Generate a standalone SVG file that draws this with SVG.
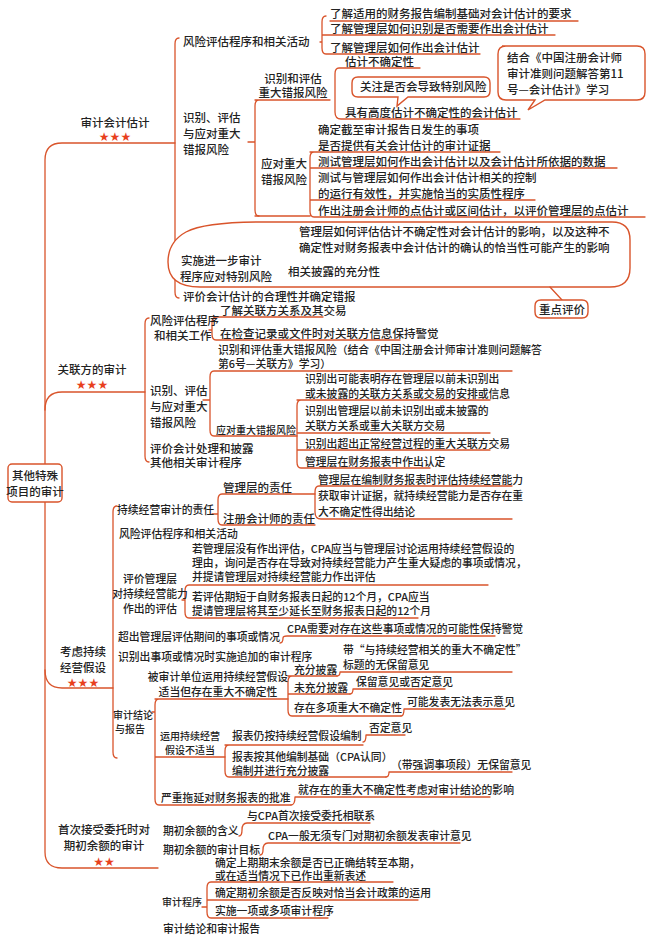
<svg xmlns="http://www.w3.org/2000/svg" width="650" height="940" viewBox="0 0 650 940">
<style>
text{font-family:"Noto Sans CJK SC","Liberation Serif",serif;font-size:11.5px;fill:#222;font-weight:500}
.s{font-size:10.8px}
.t{font-size:10px}
.l{fill:none;stroke:#d9542b;stroke-width:1.3;stroke-linecap:round;stroke-linejoin:round}
.st{fill:#e8401c;font-size:12px;font-family:"DejaVu Sans",sans-serif}
.cb{fill:#fff;stroke:#d9542b;stroke-width:1.4}
</style>
<rect width="650" height="940" fill="#fff"/>
<g id="connectors" class="l">
<path d="M45,464 V160 Q45,143 62,143 H175"/>
<path d="M45,501 V852 Q45,868 62,868 H158"/>
<path d="M45,410 Q45,392 62,392 H145"/>
<path d="M45,670 Q45,688 62,688 H113"/>
<path d="M179,38 Q175,38 175,44 V292 Q175,298 179,298"/>
<path d="M320,42 H322 M326,16 Q322,16 322,22 V48 Q322,54 326,54 M322,35 H555 M330,21 H578 M326,54 H480"/>
<path d="M248,142 H255 M259,100 Q255,100 255,106 V210 Q255,216 259,216 M255,100 H330"/>
<path d="M339,68 Q335,68 335,74 V112 Q335,119 341,119 H520 M339,68 H420"/>
<path d="M255,216 H310 M314,152 Q310,152 310,158 V211 Q310,217 314,217 H645 M310,152 H500 M310,168 H617 M310,200 H535"/>
<path d="M273,270 H280 M284,256 Q280,256 280,262 V272 Q280,278 284,278 H390 M280,256 H618"/>
<path d="M149,318 Q145,318 145,324 V456 Q145,462 149,462"/>
<path d="M209,330 H212 M216,317 Q212,317 212,323 V334 Q212,340 216,340 H400 M216,317 H323"/>
<path d="M203,400 H210 M214,371 Q210,371 210,377 V430 Q210,436 214,436 H297 M214,371 H512"/>
<path d="M301,400 Q297,400 297,406 V462 Q297,468 301,468 H430 M297,400 H490 M297,433 H490 M297,450 H490"/>
<path d="M117,506 Q113,506 113,512 V752 Q113,758 117,758"/>
<path d="M212,514 H218 M222,494 Q218,494 218,500 V519 Q218,525 222,525 H315 M222,494 H315"/>
<path d="M319,486 Q315,486 315,492 V512 Q315,519 321,519 H512 M319,486 H512"/>
<path d="M182,600 H185 M189,585 Q185,585 185,591 V612 Q185,618 189,618 H418 M189,585 H488"/>
<path d="M280,643 Q283,643 283,638 Q283,636 287,636 H495"/>
<path d="M152,712 H155 M159,699 Q155,699 155,705 V799 Q155,805 159,805 H291 M155,699 H288 M155,757 H225"/>
<path d="M292,676 Q288,676 288,682 V710 Q288,716 292,716 H401 M288,676 H337 M288,694 H350"/>
<path d="M337,676 Q340,676 340,672 H512 M350,694 Q353,694 353,689 H445 M401,716 Q404,716 404,709 H505"/>
<path d="M229,745 Q225,745 225,751 V771 Q225,777 229,777 H386 M225,745 H363"/>
<path d="M363,742 Q366,742 366,735 H405 M386,777 Q389,777 389,772 H512"/>
<path d="M291,805 Q295,805 295,797 H490"/>
<path d="M239,836 Q242,836 242,830 Q242,823 247,823 H370"/>
<path d="M260,855 Q263,855 263,850 Q263,843 268,843 H460"/>
<path d="M202,907 H207 M211,882 Q207,882 207,888 V912 Q207,918 211,918 H328 M211,882 H393 M207,900 H418"/>
</g>
<g id="callouts">
<path class="cb" fill="none" d="M186,232 Q205,222 262,222 H612 Q630,222 630,240 V268 Q630,287 610,287 H200 Q168,287 168,262 Q168,242 186,232 Z"/>
<path class="l" d="M550,287 L562,300"/>
<path class="cb" d="M502,46 H637 Q645,46 645,54 V92 Q645,100 637,100 H545 L528,110 L535,100 H506 Q498,100 498,92 V54 Q498,46 506,46 Z"/>
<path class="cb" d="M358,77 H484 Q490,77 490,83 V91 Q490,97 484,97 H408 L397,106 L398,97 H358 Q352,97 352,91 V83 Q352,77 358,77 Z"/>
<path class="cb" d="M541,300 H582 Q588,300 588,306 V312 Q588,318 582,318 H541 Q535,318 535,312 V306 Q535,300 541,300 Z"/>
</g>
<g id="root"><rect x="8" y="464" width="54" height="38" rx="4" class="cb"/><text x="35" y="480" text-anchor="middle">其他特殊</text><text x="35" y="496" text-anchor="middle">项目的审计</text></g>
<g id="b1"><text x="115" y="127" text-anchor="middle">审计会计估计</text><text class="st" x="115" y="141" text-anchor="middle">★★★</text></g>
<g id="b2"><text x="92" y="374" text-anchor="middle">关联方的审计</text><text class="st" x="92" y="389" text-anchor="middle">★★★</text></g>
<g id="b3"><text x="83" y="656" text-anchor="middle">考虑持续</text><text x="83" y="672" text-anchor="middle">经营假设</text><text class="st" x="83" y="687" text-anchor="middle">★★★</text></g>
<g id="b4"><text x="104" y="834" text-anchor="middle">首次接受委托时对</text><text x="104" y="850" text-anchor="middle">期初余额的审计</text><text class="st" x="104" y="866" text-anchor="middle">★★</text></g>
<g id="g1">
<text x="183" y="46">风险评估程序和相关活动</text>
<text x="330" y="18">了解适用的财务报告编制基础对会计估计的要求</text>
<text x="330" y="33">了解管理层如何识别是否需要作出会计估计</text>
<text x="330" y="52">了解管理层如何作出会计估计</text>
<text x="183" y="122">识别、评估</text><text x="183" y="138">与应对重大</text><text x="183" y="154">错报风险</text>
<text x="293" y="83" text-anchor="middle">识别和评估</text><text x="293" y="97" text-anchor="middle">重大错报风险</text>
<text x="345" y="66">估计不确定性</text>
<text x="360" y="91">关注是否会导致特别风险</text>
<text x="345" y="117">具有高度估计不确定性的会计估计</text>
<text x="507" y="62">结合《中国注册会计师</text><text x="507" y="78">审计准则问题解答第11</text><text x="507" y="94">号—会计估计》学习</text>
<text x="261" y="168">应对重大</text><text x="261" y="184">错报风险</text>
<text x="318" y="134">确定截至审计报告日发生的事项</text>
<text x="318" y="150">是否提供有关会计估计的审计证据</text>
<text x="318" y="166">测试管理层如何作出会计估计以及会计估计所依据的数据</text>
<text x="318" y="182">测试与管理层如何作出会计估计相关的控制</text>
<text x="318" y="198">的运行有效性，并实施恰当的实质性程序</text>
<text x="318" y="215">作出注册会计师的点估计或区间估计，以评价管理层的点估计</text>
<text x="181" y="265">实施进一步审计</text><text x="180" y="281">程序应对特别风险</text>
<text x="299" y="236">管理层如何评估估计不确定性对会计估计的影响，以及这种不</text>
<text x="299" y="252">确定性对财务报表中会计估计的确认的恰当性可能产生的影响</text>
<text x="288" y="276">相关披露的充分性</text>
<text x="183" y="301">评价会计估计的合理性并确定错报</text>
<text x="539" y="314">重点评价</text>
</g>
<g id="g2">
<text x="150" y="325">风险评估程序</text><text x="154" y="340">和相关工作</text>
<text x="220" y="315">了解关联方关系及其交易</text>
<text x="220" y="338">在检查记录或文件时对关联方信息保持警觉</text>
<text x="150" y="395">识别、评估</text><text x="150" y="411">与应对重大</text><text x="150" y="427">错报风险</text>
<text class="s" x="218" y="354">识别和评估重大错报风险（结合《中国注册会计师审计准则问题解答</text>
<text class="s" x="218" y="368">第6号—关联方》学习）</text>
<text class="t" x="216" y="434">应对重大错报风险</text>
<text class="s" x="305" y="383">识别出可能表明存在管理层以前未识别出</text>
<text class="s" x="305" y="398">或未披露的关联方关系或交易的安排或信息</text>
<text class="s" x="305" y="415">识别出管理层以前未识别出或未披露的</text>
<text class="s" x="305" y="430">关联方关系或重大关联方交易</text>
<text class="s" x="305" y="448">识别出超出正常经营过程的重大关联方交易</text>
<text class="s" x="305" y="466">管理层在财务报表中作出认定</text>
<text x="150" y="453">评价会计处理和披露</text><text x="150" y="467">其他相关审计程序</text>
</g>
<g id="g3">
<text class="s" x="117" y="514">持续经营审计的责任</text>
<text x="223" y="492">管理层的责任</text>
<text x="223" y="523">注册会计师的责任</text>
<text class="s" x="318" y="484">管理层在编制财务报表时评估持续经营能力</text>
<text class="s" x="318" y="500">获取审计证据，就持续经营能力是否存在重</text>
<text class="s" x="318" y="516">大不确定性得出结论</text>
<text class="s" x="119" y="538">风险评估程序和相关活动</text>
<text class="s" x="150" y="583" text-anchor="middle">评价管理层</text><text class="s" x="150" y="598" text-anchor="middle">对持续经营能力</text><text class="s" x="150" y="613" text-anchor="middle">作出的评估</text>
<text class="s" x="192" y="553">若管理层没有作出评估，CPA应当与管理层讨论运用持续经营假设的</text>
<text class="s" x="192" y="567">理由，询问是否存在导致对持续经营能力产生重大疑虑的事项或情况，</text>
<text class="s" x="192" y="581">并提请管理层对持续经营能力作出评估</text>
<text class="s" x="192" y="601">若评估期短于自财务报表日起的12个月，CPA应当</text>
<text class="s" x="192" y="615">提请管理层将其至少延长至财务报表日起的12个月</text>
<text class="s" x="118" y="641">超出管理层评估期间的事项或情况</text>
<text class="s" x="287" y="633">CPA需要对存在这些事项或情况的可能性保持警觉</text>
<text class="s" x="118" y="661">识别出事项或情况时实施追加的审计程序</text>
<text class="t" x="113" y="719">审计结论</text><text class="t" x="115" y="733">与报告</text>
<text class="s" x="218" y="681" text-anchor="middle">被审计单位运用持续经营假设</text>
<text class="s" x="218" y="696" text-anchor="middle">适当但存在重大不确定性</text>
<text class="s" x="294" y="674">充分披露</text>
<text class="s" x="343" y="654">带“与持续经营相关的重大不确定性”</text>
<text class="s" x="343" y="669">标题的无保留意见</text>
<text class="s" x="294" y="692">未充分披露</text>
<text class="s" x="356" y="686">保留意见或否定意见</text>
<text class="s" x="294" y="712">存在多项重大不确定性</text>
<text class="s" x="407" y="706">可能发表无法表示意见</text>
<text class="t" x="160" y="740">运用持续经营</text><text class="t" x="165" y="754">假设不适当</text>
<text class="s" x="232" y="740">报表仍按持续经营假设编制</text>
<text class="s" x="369" y="732">否定意见</text>
<text class="s" x="232" y="761">报表按其他编制基础（CPA认同）</text>
<text class="s" x="232" y="775">编制并进行充分披露</text>
<text class="s" x="391" y="769">（带强调事项段）无保留意见</text>
<text class="s" x="161" y="802">严重拖延对财务报表的批准</text>
<text class="s" x="298" y="794">就存在的重大不确定性考虑对审计结论的影响</text>
</g>
<g id="g4">
<text class="s" x="163" y="835">期初余额的含义</text>
<text class="s" x="247" y="820">与CPA首次接受委托相联系</text>
<text class="s" x="163" y="854">期初余额的审计目标</text>
<text class="s" x="268" y="840">CPA一般无须专门对期初余额发表审计意见</text>
<text class="t" x="162" y="906">审计程序</text>
<text class="s" x="215" y="867">确定上期期末余额是否已正确结转至本期，</text>
<text class="s" x="215" y="880">或在适当情况下已作出重新表述</text>
<text class="s" x="215" y="897">确定期初余额是否反映对恰当会计政策的运用</text>
<text class="s" x="215" y="915">实施一项或多项审计程序</text>
<text class="s" x="163" y="933">审计结论和审计报告</text>
</g>
</svg>
